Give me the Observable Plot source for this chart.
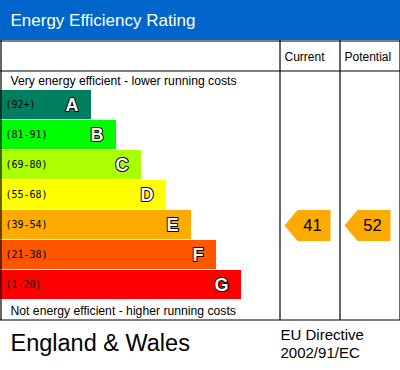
<!DOCTYPE html>
<html><head><meta charset="utf-8">
<script src="https://cdn.jsdelivr.net/npm/d3@7"></script>
<script src="https://cdn.jsdelivr.net/npm/@observablehq/plot@0.6"></script>
<style>body{margin:0;background:#fff}</style>
</head><body><div id="chart"></div>
<script>
// ---- data ----
const title = "Energy Efficiency Rating";
const ratings = ["A","B","C","D","E","F","G"];
const ranges = ["(92+)","(81-91)","(69-80)","(55-68)","(39-54)","(21-38)","(1-20)"];
const lowerBounds = [92,81,69,55,39,21,1];
const bandColors = ["#007f5f","#00ff00","#aaff00","#ffff00","#ffaa00","#ff5500","#ff0000"];
const columns = ["Current","Potential"];
const scores = [41, 52];
const topNote = "Very energy efficient - lower running costs";
const bottomNote = "Not energy efficient - higher running costs";
const region = "England & Wales";
const directive = ["EU Directive","2002/91/EC"];

// ---- layout ----
const W = 400, H = 370;
const headerH = 40, headRowBottom = 70, barsTop = 90, rowH = 30, barH = 29;
const barBase = 66, barStep = 25, tableBottom = 320;
const colEdges = [279, 339, 399];
const font = "Liberation Sans";
const mono = "DejaVu Sans Mono";

const bands = ratings.map((r, i) => ({
  rating: r, range: ranges[i], color: bandColors[i],
  y1: barsTop + rowH * i, y2: barsTop + rowH * i + barH,
  ym: barsTop + rowH * i + barH / 2,
  x2: barBase + barStep * (i + 1)
}));

const ratingIndex = s => lowerBounds.findIndex(b => s >= b);
const arrows = [];
const arrowLabels = [];
scores.forEach((s, j) => {
  const i = ratingIndex(s);
  const left = colEdges[j] + 5, right = colEdges[j + 1] - 9;
  const top = barsTop + rowH * i - 0.5, bot = top + 31, mid = (top + bot) / 2;
  const pts = [[left, mid], [left + 13, top], [right, top], [right, bot], [left + 13, bot]];
  pts.forEach(([x, y]) => arrows.push({col: columns[j], x, y, color: bandColors[i]}));
  arrowLabels.push({x: right - 18, y: mid, text: String(s)});
});

const hLines = [{y: 40.5}, {y: headRowBottom + 0.5}, {y: tableBottom - 0.5}];
const vLines = [{x: 0.5}, {x: colEdges[0] + 0.5}, {x: colEdges[1] + 0.5}, {x: colEdges[2] + 0.5}];

const chart = Plot.plot({
  width: W, height: H,
  margin: 0,
  x: {domain: [0, W], range: [0, W], axis: null},
  y: {domain: [0, H], range: [0, H], axis: null},
  style: {fontFamily: font, background: "#fff"},
  marks: [
    Plot.rect([{x1: 0, x2: W, y1: 0, y2: headerH}], {x1: "x1", x2: "x2", y1: "y1", y2: "y2", fill: "#0066cc"}),
    Plot.text([{x: 10, y: 25, t: title}], {x: "x", y: "y", text: "t", fontFamily: font, fill: "white", fontSize: 17, textAnchor: "start", lineAnchor: "bottom"}),
    Plot.rect(bands, {x1: 0, x2: "x2", y1: "y1", y2: "y2", fill: "color"}),
    Plot.text(bands, {x: 5, y: "ym", text: "range", fontFamily: mono, fontSize: 10, textAnchor: "start", fill: "black"}),
    Plot.text(bands, {x: d => d.x2 - 13, y: "ym", text: "rating", fontFamily: font, fontSize: 18, fontWeight: "bold", textAnchor: "end", fill: "white", stroke: "black", strokeWidth: 2}),
    Plot.ruleY(hLines, {y: "y", x1: 0, x2: W, stroke: "black", strokeWidth: 1.2}),
    Plot.ruleX(vLines, {x: "x", y1: headerH, y2: tableBottom, stroke: "black", strokeWidth: 1.2}),
    Plot.text(columns.map((c, j) => ({x: colEdges[j] + 5, y: 60, t: c})), {x: "x", y: "y", text: "t", fontFamily: font, fontSize: 12, textAnchor: "start", lineAnchor: "bottom", fill: "black"}),
    Plot.text([{x: 10, y: 84, t: topNote}, {x: 10, y: 314, t: bottomNote}], {x: "x", y: "y", text: "t", fontFamily: font, fontSize: 12.2, textAnchor: "start", lineAnchor: "bottom", fill: "black"}),
    Plot.line(arrows, {x: "x", y: "y", z: "col", fill: "color", stroke: null, curve: "linear-closed"}),
    Plot.text(arrowLabels, {x: "x", y: "y", text: "text", fontFamily: font, fontSize: 16.5, textAnchor: "middle", fill: "black"}),
    Plot.text([{x: 10, y: 350, t: region}], {x: "x", y: "y", text: "t", fontFamily: font, fontSize: 23.5, textAnchor: "start", lineAnchor: "bottom", fill: "black"}),
    Plot.text(directive.map((t, k) => ({x: 280, y: 339 + 18 * k, t})), {x: "x", y: "y", text: "t", fontFamily: font, fontSize: 15, textAnchor: "start", lineAnchor: "bottom", fill: "black"})
  ]
});
document.getElementById("chart").append(chart);
</script>
</body></html>
